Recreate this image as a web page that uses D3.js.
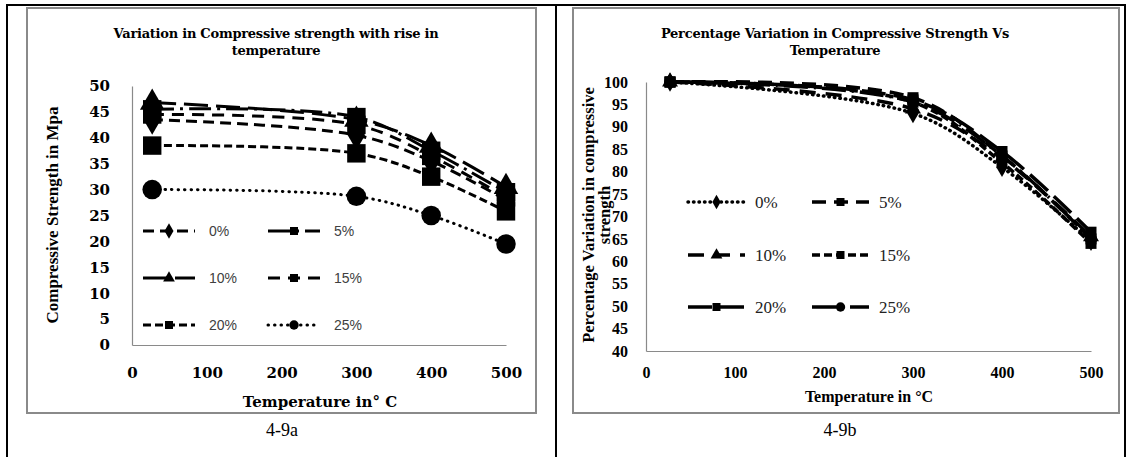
<!DOCTYPE html>
<html><head><meta charset="utf-8">
<script src="https://cdn.jsdelivr.net/npm/d3@7"></script>
<style>html,body{margin:0;padding:0;background:#fff;}svg{display:block;}</style>
</head><body>
<script>
// ---------- data ----------
const temps = [27, 300, 400, 500];
const seriesNames = ["0%", "5%", "10%", "15%", "20%", "25%"];
const xTicks = [0, 100, 200, 300, 400, 500];
// Fig 4-9a : compressive strength (MPa)
const strength0  = [43.5, 40.5, 35.5, 28.0];
const strength5  = [45.5, 44.0, 37.5, 29.5];
const strength10 = [46.8, 43.5, 38.5, 30.5];
const strength15 = [44.5, 42.5, 36.5, 28.5];
const strength20 = [38.5, 37.0, 32.5, 25.8];
const strength25 = [30.0, 28.7, 25.0, 19.5];
const yTicksA = [0, 5, 10, 15, 20, 25, 30, 35, 40, 45, 50];
// Fig 4-9b : percentage of initial strength
const pct0  = [100, 93.0, 81.0, 64.5];
const pct5  = [100, 96.5, 83.5, 65.0];
const pct10 = [100, 94.0, 83.0, 65.5];
const pct15 = [100, 95.5, 82.0, 64.0];
const pct20 = [100, 96.0, 84.5, 66.5];
const pct25 = [100, 95.5, 83.5, 65.0];
const yTicksB = [40, 45, 50, 55, 60, 65, 70, 75, 80, 85, 90, 95, 100];

const W = 1130, H = 457;
const svg = d3.select("body").append("svg").attr("width", W).attr("height", H);

// table borders
const tb = svg.append("g").attr("stroke", "#000").attr("stroke-width", 2);
tb.append("line").attr("x1", 6).attr("x2", 1126).attr("y1", 5).attr("y2", 5);
[7, 556, 1125].forEach(x => tb.append("line").attr("x1", x).attr("x2", x).attr("y1", 4).attr("y2", H));

const symbolOf = {diamond: d3.symbolDiamond, square: d3.symbolSquare, triangle: d3.symbolTriangle, circle: d3.symbolCircle};

function drawChart(cfg) {
  const g = svg.append("g");
  g.append("rect").attr("x", cfg.frame[0]).attr("y", cfg.frame[1]).attr("width", cfg.frame[2]).attr("height", cfg.frame[3])
    .attr("fill", "#fff").attr("stroke", "#8a8a8a").attr("stroke-width", 2);
  const x = d3.scaleLinear().domain([0, 500]).range(cfg.xr);
  const y = d3.scaleLinear().domain(cfg.yd).range(cfg.yr);

  // title
  cfg.title.forEach((t, i) => g.append("text").attr("x", cfg.titleX).attr("y", 38 + i * 17)
    .attr("text-anchor", "middle").attr("font-family", "DejaVu Serif").attr("font-weight", "bold")
    .attr("font-size", cfg.titleSize).attr("letter-spacing", cfg.titleLS).text(t));

  // axes (no ticks)
  const ax = g.append("g").attr("transform", `translate(0,${cfg.yr[0]})`)
    .call(d3.axisBottom(x).tickValues(xTicks).tickSize(0).tickPadding(cfg.xPad));
  ax.select(".domain").attr("stroke", "#8a8a8a").attr("stroke-width", 1.2);
  ax.selectAll("text").attr("font-family", cfg.tickFont).attr("font-weight", "bold").attr("font-size", cfg.tickSize).attr("fill", "#000");
  const ay = g.append("g").attr("transform", `translate(${cfg.xr[0]},0)`)
    .call(d3.axisLeft(y).tickValues(cfg.yTicks).tickSize(0).tickPadding(cfg.yPad));
  ay.select(".domain").attr("stroke", "#8a8a8a").attr("stroke-width", 1.2);
  ay.selectAll("text").attr("font-family", cfg.tickFont).attr("font-weight", "bold").attr("font-size", cfg.tickSize).attr("fill", "#000");

  // axis titles
  g.append("text").attr("x", cfg.xTitlePos[0]).attr("y", cfg.xTitlePos[1]).attr("text-anchor", "middle")
    .attr("font-family", cfg.axisTitleFont).attr("font-weight", "bold").attr("font-size", cfg.xTitleSize).text(cfg.xTitle);
  cfg.yTitle.forEach((t, i) => g.append("text")
    .attr("transform", `translate(${cfg.yTitlePos[0] + i * 16},${cfg.yTitlePos[1]}) rotate(-90)`)
    .attr("text-anchor", "middle").attr("font-family", "Liberation Serif").attr("font-weight", "bold")
    .attr("font-size", cfg.yTitleSize).text(t));

  const line = d3.line().x((d, i) => x(temps[i])).y(d => y(d)).curve(d3.curveCatmullRom.alpha(0.5));
  cfg.series.forEach(s => {
    g.append("path").attr("d", line(s.values)).attr("fill", "none").attr("stroke", "#000")
      .attr("stroke-width", cfg.lw).attr("stroke-dasharray", s.dash)
      .attr("stroke-linecap", s.round ? "round" : "butt");
  });
  cfg.series.forEach(s => {
    g.selectAll(null).data(s.values).join("path")
      .attr("transform", (d, i) => `translate(${x(temps[i])},${y(d)})`)
      .attr("d", d3.symbol(symbolOf[s.marker], cfg.markerSize[s.marker]))
      .attr("fill", "#000");
  });

  // legend
  cfg.series.forEach((s, k) => {
    const col = k % 2, row = Math.floor(k / 2);
    const lx = cfg.legX[col], ly = cfg.legY[row];
    const lg = g.append("g").attr("transform", `translate(${lx},${ly})`);
    lg.append("line").attr("x1", 0).attr("x2", cfg.legW).attr("y1", 0).attr("y2", 0)
      .attr("stroke", "#000").attr("stroke-width", cfg.lw).attr("stroke-dasharray", s.dash)
      .attr("stroke-linecap", s.round ? "round" : "butt");
    lg.append("path").attr("transform", `translate(${cfg.legW / 2},0)`)
      .attr("d", d3.symbol(symbolOf[s.marker], cfg.legMarker[s.marker])).attr("fill", "#000");
    lg.append("text").attr("x", cfg.legW + cfg.legGap).attr("y", 0).attr("dy", "0.35em")
      .attr("font-family", cfg.legFont).attr("font-size", cfg.legSize).attr("fill", cfg.legColor).text(seriesNames[k]);
  });

  // caption
  g.append("text").attr("x", cfg.capX).attr("y", 436).attr("text-anchor", "middle")
    .attr("font-family", "Liberation Serif").attr("font-size", 18).text(cfg.caption);
}

drawChart({
  frame: [27, 8, 509, 405],
  xr: [132, 506], yd: [0, 50], yr: [345, 86], yTicks: yTicksA,
  title: ["Variation in Compressive strength with rise in", "temperature"], titleX: 276, titleSize: 13, titleLS: -0.25,
  tickFont: "DejaVu Serif", tickSize: 15, xPad: 22, yPad: 22,
  axisTitleFont: "DejaVu Serif", xTitle: "Temperature in\u00b0 C", xTitlePos: [320, 407], xTitleSize: 15,
  yTitle: ["Compressive Strength in Mpa"], yTitlePos: [58, 215], yTitleSize: 17,
  lw: 3,
  series: [
    {values: strength0, dash: "11,6", marker: "diamond"},
    {values: strength5, dash: "22,6,3,6", marker: "square"},
    {values: strength10, dash: "24,8", marker: "triangle"},
    {values: strength15, dash: "12,8", marker: "square"},
    {values: strength20, dash: "8,4", marker: "square"},
    {values: strength25, dash: "0.5,6", marker: "circle", round: true}
  ],
  markerSize: {diamond: 260, square: 340, triangle: 260, circle: 300},
  legX: [143, 268], legY: [231, 278, 325], legW: 52, legGap: 14,
  legMarker: {diamond: 70, square: 64, triangle: 60, circle: 70},
  legFont: "Liberation Sans", legSize: 14, legColor: "#404040",
  capX: 282, caption: "4-9a"
});

drawChart({
  frame: [573, 8, 546, 405],
  xr: [646, 1091], yd: [40, 100], yr: [351, 82], yTicks: yTicksB,
  title: ["Percentage Variation in Compressive Strength Vs", "Temperature"], titleX: 835, titleSize: 13, titleLS: -0.25,
  tickFont: "Liberation Serif", tickSize: 16, xPad: 16, yPad: 18,
  axisTitleFont: "Liberation Serif", xTitle: "Temperature in \u00b0C", xTitlePos: [869, 402], xTitleSize: 16,
  yTitle: ["Percentage Variation in compressive", "strength"], yTitlePos: [594, 215], yTitleSize: 16.5,
  lw: 3.5,
  series: [
    {values: pct0, dash: "0.5,5", marker: "diamond", round: true},
    {values: pct5, dash: "14,8", marker: "square"},
    {values: pct10, dash: "16,10", marker: "triangle"},
    {values: pct15, dash: "8,4", marker: "square"},
    {values: pct25, dash: "24,6,2,6", marker: "circle"},
    {values: pct20, dash: "24,8", marker: "square"}
  ].map((s, i, arr) => i === 4 ? arr[5] : i === 5 ? arr[4] : s),
  markerSize: {diamond: 110, square: 121, triangle: 110, circle: 110},
  legX: [688, 812], legY: [202, 255, 307], legW: 57, legGap: 10,
  legMarker: {diamond: 60, square: 64, triangle: 60, circle: 70},
  legFont: "Liberation Serif", legSize: 17, legColor: "#222",
  capX: 840, caption: "4-9b"
});
</script>
</body></html>
